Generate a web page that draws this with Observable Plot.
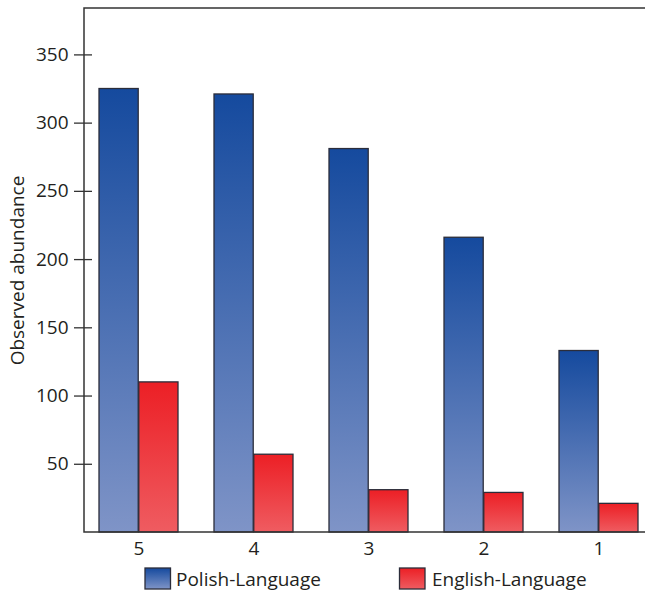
<!DOCTYPE html>
<html>
<head>
<meta charset="utf-8">
<script src="https://cdn.jsdelivr.net/npm/d3@7"></script>
<script src="https://cdn.jsdelivr.net/npm/@observablehq/plot@0.6"></script>
<style>
  html, body { margin: 0; padding: 0; background: #fff; overflow: hidden; }
  #chart { width: 645px; height: 593px; overflow: hidden; font-family: "Open Sans", sans-serif; color: #231f20; }
  #chart svg { display: block; max-width: none !important; }
</style>
</head>
<body>
<div id="chart"></div>
<script>
// Rating categories, shown from 5 down to 1
const categories = ["5", "4", "3", "2", "1"];
// Observed abundance per rating
const polishValues = [325, 321, 281, 216, 133];
const englishValues = [110, 57, 31, 29, 21];
const seriesNames = ["Polish-Language", "English-Language"];
const yTicks = [50, 100, 150, 200, 250, 300, 350];
const yMax = 384;

const data = categories.map((c, i) => ({ category: c, polish: polishValues[i], english: englishValues[i] }));

// The plot area is wider than the page; its right part is cut off by the container
const plotWidth = 670;
const xRange = [84, 652.5];
const padInner = 0.31, padOuter = 0.12;
const step = (xRange[1] - xRange[0]) / (categories.length - padInner + 2 * padOuter);
const half = step * (1 - padInner) / 2;

const polishTop = "#154a9e", polishBottom = "#7f94c7";
const englishTop = "#ec1f25", englishBottom = "#ef5c61";
const edge = "#2b2d3a";
const axisColor = "#333";
const textColor = "#231f20";
const fontSize = 19;

// Vertical gradient definitions used by the bar fills and legend swatches
function addGradients(svg) {
  const defs = svg.insert("defs", ":first-child");
  [["polishFill", polishTop, polishBottom], ["englishFill", englishTop, englishBottom]].forEach(([id, a, b]) => {
    const g = defs.append("linearGradient").attr("id", id)
      .attr("x1", 0).attr("y1", 0).attr("x2", 0).attr("y2", 1);
    g.append("stop").attr("offset", "0%").attr("stop-color", a);
    g.append("stop").attr("offset", "100%").attr("stop-color", b);
  });
}

// Open frame of the plot area: left, top and bottom edges only
const openFrame = (index, scales, values, dimensions) => {
  const { width, height, marginLeft, marginTop, marginBottom } = dimensions;
  const g = d3.create("svg:g").attr("stroke", axisColor).attr("fill", "none");
  g.append("path")
    .attr("stroke-width", 1.5)
    .attr("d", `M${width},${marginTop}H${marginLeft}V${height - marginBottom}H${width}`);
  return g.node();
};

const plot = Plot.plot({
  width: plotWidth,
  height: 560,
  marginTop: 8,
  marginBottom: 28,
  marginLeft: 84,
  marginRight: 0,
  style: { fontFamily: "Open Sans, sans-serif", color: textColor, background: "#fff", maxWidth: "none" },
  x: { domain: categories, range: xRange, paddingInner: padInner, paddingOuter: padOuter, label: null },
  y: { domain: [0, yMax], label: null },
  marks: [
    Plot.barY(data, { x: "category", y: "polish", fill: "url(#polishFill)", stroke: edge, strokeWidth: 1.3, insetRight: half }),
    Plot.barY(data, { x: "category", y: "english", fill: "url(#englishFill)", stroke: edge, strokeWidth: 1.3, insetLeft: half }),
    openFrame,
    Plot.axisY({ ticks: yTicks, tickSize: 18, tickPadding: 6, dx: 8, fontSize, stroke: axisColor, strokeWidth: 1.3, fill: textColor, label: null }),
    Plot.axisX({ tickSize: 0, tickPadding: 9, fontSize, fill: textColor, label: null }),
    Plot.text(["Observed abundance"], { frameAnchor: "left", textAnchor: "middle", rotate: -90, dx: -67, fontSize, fill: textColor })
  ]
});
addGradients(d3.select(plot));
plot.style.width = plotWidth + "px";
plot.style.height = "560px";

const chart = document.getElementById("chart");
chart.appendChild(plot);

// Legend below the plot
const legend = d3.create("svg")
  .attr("width", 645).attr("height", 33)
  .style("display", "block")
  .style("font-family", "Open Sans, sans-serif");
const items = [
  { name: seriesNames[0], fill: "url(#polishFill)", swatchX: 145, textX: 176 },
  { name: seriesNames[1], fill: "url(#englishFill)", swatchX: 399.5, textX: 432 }
];
const entry = legend.selectAll("g").data(items).join("g");
entry.append("rect")
  .attr("x", d => d.swatchX).attr("y", 8)
  .attr("width", 25.5).attr("height", 21)
  .attr("fill", d => d.fill).attr("stroke", edge).attr("stroke-width", 1.3);
entry.append("text")
  .attr("x", d => d.textX).attr("y", 26)
  .attr("font-size", fontSize).attr("fill", textColor)
  .text(d => d.name);
chart.appendChild(legend.node());
</script>
</body>
</html>
